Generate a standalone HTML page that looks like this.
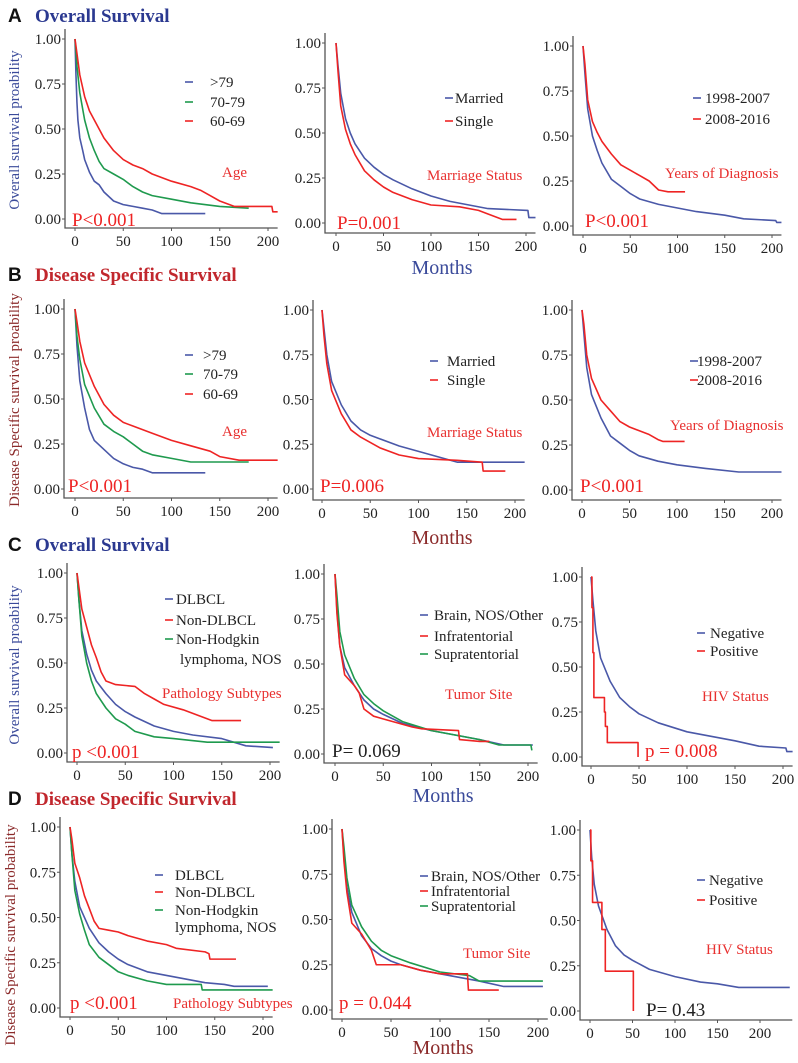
<!DOCTYPE html>
<html><head><meta charset="utf-8"><style>
html,body{margin:0;padding:0;background:#fff;}
svg{display:block;font-family:"Liberation Serif",serif;}
svg text{font-family:"Liberation Serif",serif;}
.tk{font-size:15px;fill:#222;}
.lg{font-size:15px;fill:#222;}
.an{font-size:15px;fill:#e8302f;}
.pv{font-size:19px;}
</style></head><body>
<svg id="fig" width="798" height="1063" viewBox="0 0 798 1063">
<g>
<text x="8" y="22" style="font-family:'Liberation Sans',sans-serif" font-weight="bold" font-size="19" fill="#111">A</text>
<text x="35" y="22" font-weight="bold" font-size="19" fill="#2b3990">Overall Survival</text>
<text x="8" y="281" style="font-family:'Liberation Sans',sans-serif" font-weight="bold" font-size="19" fill="#111">B</text>
<text x="35" y="281" font-weight="bold" font-size="19" fill="#c1272d">Disease Specific Survival</text>
<text x="8" y="551" style="font-family:'Liberation Sans',sans-serif" font-weight="bold" font-size="19" fill="#111">C</text>
<text x="35" y="551" font-weight="bold" font-size="19" fill="#2b3990">Overall Survival</text>
<text x="8" y="805" style="font-family:'Liberation Sans',sans-serif" font-weight="bold" font-size="19" fill="#111">D</text>
<text x="35" y="805" font-weight="bold" font-size="19" fill="#c1272d">Disease Specific Survival</text>
</g>
<g>
<text transform="translate(19,130) rotate(-90)" text-anchor="middle" font-size="15" fill="#3a4a9a">Overall survival proability</text>
<text transform="translate(19,400) rotate(-90)" text-anchor="middle" font-size="15" fill="#8b2a2a">Disease Specific survival proability</text>
<text transform="translate(19,665) rotate(-90)" text-anchor="middle" font-size="15" fill="#3a4a9a">Overall survival proability</text>
<text transform="translate(15,935) rotate(-90)" text-anchor="middle" font-size="15" fill="#8b2a2a">Disease Specific survival probability</text>
<text x="442" y="274" text-anchor="middle" font-size="20" fill="#3a4a9a">Months</text>
<text x="442" y="544" text-anchor="middle" font-size="20" fill="#8b2a2a">Months</text>
<text x="443" y="802" text-anchor="middle" font-size="20" fill="#3a4a9a">Months</text>
<text x="443" y="1054" text-anchor="middle" font-size="20" fill="#8b2a2a">Months</text>
</g>
</svg>
<script>
const xTicks = [0, 50, 100, 150, 200];
const yTicks = [0, 0.25, 0.5, 0.75, 1];
const yTickLabels = ["0.00", "0.25", "0.50", "0.75", "1.00"];

// A1 Age OS
const a1_old_t = [0,1,2,3,5,8,10,15,20,25,30,40,50,60,70,80,90,135];
const a1_old_s = [1,.8,.65,.55,.45,.38,.33,.26,.21,.19,.15,.1,.08,.07,.06,.05,.03,.03];
const a1_mid_t = [0,2,5,10,15,20,25,30,40,50,60,70,80,100,120,150,180];
const a1_mid_s = [1,.85,.7,.55,.45,.38,.32,.28,.25,.22,.18,.15,.13,.11,.09,.07,.06];
const a1_yng_t = [0,2,5,10,15,20,30,40,50,60,70,80,100,120,130,140,150,165,204,205,210];
const a1_yng_s = [1,.92,.8,.68,.6,.55,.45,.38,.33,.3,.28,.25,.21,.18,.16,.13,.1,.07,.07,.04,.04];
// A2 Marriage OS
const a2_mar_t = [0,2,5,10,15,20,30,40,50,60,80,100,120,140,160,202,203,210];
const a2_mar_s = [1,.88,.72,.58,.5,.44,.36,.31,.27,.24,.19,.15,.12,.1,.08,.07,.03,.03];
const a2_sgl_t = [0,2,5,10,15,20,30,40,50,60,80,100,130,150,160,175,190];
const a2_sgl_s = [1,.85,.65,.52,.44,.38,.29,.24,.2,.17,.13,.1,.09,.07,.05,.02,.02];
// A3 Year OS
const a3_old_t = [0,2,5,10,15,20,30,40,50,60,80,100,120,150,170,204,205,210];
const a3_old_s = [1,.85,.65,.5,.42,.35,.26,.22,.18,.15,.12,.1,.08,.06,.04,.03,.02,.02];
const a3_new_t = [0,2,5,10,15,20,30,40,50,60,70,80,90,108];
const a3_new_s = [1,.9,.7,.58,.52,.47,.4,.34,.31,.28,.25,.2,.19,.19];
// B1 Age DSS
const b1_old_t = [0,2,5,10,15,20,30,40,50,60,70,80,135];
const b1_old_s = [1,.8,.6,.45,.33,.27,.22,.17,.14,.12,.11,.09,.09];
const b1_mid_t = [0,2,5,10,20,30,40,50,60,70,80,100,120,180];
const b1_mid_s = [1,.85,.72,.58,.45,.36,.32,.29,.25,.21,.19,.17,.15,.15];
const b1_yng_t = [0,2,5,10,20,30,40,50,60,80,100,120,140,150,170,210];
const b1_yng_s = [1,.93,.82,.7,.57,.47,.41,.37,.35,.31,.27,.24,.21,.18,.16,.16];
// B2 Marriage DSS
const b2_mar_t = [0,2,5,10,20,30,40,50,60,80,100,120,140,210];
const b2_mar_s = [1,.9,.75,.6,.47,.38,.33,.3,.28,.24,.21,.18,.15,.15];
const b2_sgl_t = [0,2,5,10,20,30,40,50,60,80,100,140,166,167,190];
const b2_sgl_s = [1,.86,.7,.55,.42,.33,.29,.26,.23,.19,.17,.16,.15,.1,.1];
// B3 Year DSS
const b3_old_t = [0,2,5,10,20,30,40,50,60,80,100,130,165,210];
const b3_old_s = [1,.87,.68,.53,.4,.3,.26,.22,.19,.16,.14,.12,.1,.1];
const b3_new_t = [0,2,5,10,20,30,40,50,60,70,80,85,108];
const b3_new_s = [1,.92,.75,.62,.5,.44,.38,.35,.33,.31,.28,.27,.27];
// C1 Pathology OS
const c1_dl_t = [0,2,5,10,15,20,30,40,50,60,80,100,120,150,175,203];
const c1_dl_s = [1,.85,.68,.55,.46,.4,.33,.27,.23,.2,.15,.12,.1,.08,.04,.03];
const c1_nd_t = [0,2,5,10,15,20,25,30,40,60,70,80,90,110,130,140,170];
const c1_nd_s = [1,.92,.8,.7,.6,.53,.45,.4,.38,.37,.33,.3,.27,.24,.2,.18,.18];
const c1_nh_t = [0,2,5,10,15,20,30,40,50,60,80,100,135,210];
const c1_nh_s = [1,.85,.65,.5,.4,.33,.25,.19,.16,.12,.09,.08,.06,.06];
// C2 Tumor site OS
const c2_br_t = [0,2,5,10,20,30,40,50,70,100,130,150,175,205];
const c2_br_s = [1,.8,.6,.48,.38,.3,.25,.22,.17,.13,.1,.08,.05,.05];
const c2_in_t = [0,2,5,10,20,25,30,40,60,80,90,128,129,150,160];
const c2_in_s = [1,.78,.6,.44,.38,.34,.25,.21,.18,.15,.14,.13,.08,.07,.07];
const c2_su_t = [0,2,5,10,20,30,40,50,70,100,130,150,170,203,204];
const c2_su_s = [1,.88,.68,.55,.42,.33,.28,.24,.18,.13,.1,.08,.05,.05,.02];
// C3 HIV OS
const c3_neg_t = [0,2,5,10,20,30,40,50,70,100,150,175,203,204,210];
const c3_neg_s = [1,.87,.7,.55,.42,.33,.28,.24,.19,.14,.09,.06,.05,.03,.03];
const c3_pos_t = [0,1,2,3,14,15,17,49];
const c3_pos_s = [1,.83,.58,.33,.25,.17,.08,0];
// D1 Pathology DSS
const d1_dl_t = [0,2,5,10,20,30,40,50,60,80,100,120,140,160,170,205];
const d1_dl_s = [1,.85,.7,.56,.44,.36,.31,.27,.24,.2,.18,.16,.14,.13,.12,.12];
const d1_nd_t = [0,2,5,10,15,20,25,30,40,50,60,80,100,110,140,144,145,172];
const d1_nd_s = [1,.93,.8,.72,.62,.55,.48,.44,.43,.42,.4,.37,.35,.33,.31,.3,.27,.27];
const d1_nh_t = [0,2,5,10,15,20,30,40,50,60,80,100,136,137,210];
const d1_nh_s = [1,.85,.65,.52,.43,.35,.28,.24,.2,.18,.15,.13,.13,.1,.1];
// D2 Tumor site DSS
const d2_br_t = [0,2,5,10,20,30,40,50,60,80,100,120,140,165,205];
const d2_br_s = [1,.85,.68,.54,.41,.34,.3,.27,.25,.22,.2,.18,.16,.13,.13];
const d2_in_t = [0,2,5,10,20,30,35,60,80,100,128,129,160];
const d2_in_s = [1,.82,.65,.48,.42,.33,.25,.25,.22,.2,.2,.11,.11];
const d2_su_t = [0,2,5,10,20,30,40,50,70,100,130,140,205];
const d2_su_s = [1,.9,.73,.58,.46,.38,.33,.3,.26,.21,.19,.16,.16];
// D3 HIV DSS
const d3_neg_t = [0,2,5,10,20,30,40,50,70,100,130,150,175,235];
const d3_neg_s = [1,.85,.7,.58,.45,.36,.31,.28,.23,.19,.16,.15,.13,.13];
const d3_pos_t = [0,1,3,14,18,51];
const d3_pos_s = [1,.83,.6,.45,.22,0];

const BLUE = "#4a58a8", GREEN = "#1f9a4e", RED = "#ee2424";
const NS = "http://www.w3.org/2000/svg";
const svg = document.getElementById("fig");

function mk(tag, attrs, parent) {
  const e = document.createElementNS(NS, tag);
  for (const k in attrs) e.setAttribute(k, attrs[k]);
  parent.appendChild(e);
  return e;
}

const panels = [
 {id:"a1", ax:65, x0:75, x200:268, y1:39, y0:219, bot:228, xmax:210,
  series:[[a1_old_t,a1_old_s,BLUE],[a1_mid_t,a1_mid_s,GREEN],[a1_yng_t,a1_yng_s,RED]],
  legend:{dx:185, tx:210, ys:[86,106,125], labels:[">79","70-79","60-69"], cols:[BLUE,GREEN,RED]},
  ann:[[222,177,"Age"]], pv:[72,226,"P<0.001",RED]},
 {id:"a2", ax:325, x0:336, x200:526, y1:43, y0:223, bot:233, xmax:210,
  series:[[a2_mar_t,a2_mar_s,BLUE],[a2_sgl_t,a2_sgl_s,RED]],
  legend:{dx:445, tx:455, ys:[102,125], labels:["Married"," Single"], cols:[BLUE,RED]},
  ann:[[427,180,"Marriage Status"]], pv:[337,229,"P=0.001",RED]},
 {id:"a3", ax:573, x0:583, x200:772, y1:46, y0:226, bot:235, xmax:210,
  series:[[a3_old_t,a3_old_s,BLUE],[a3_new_t,a3_new_s,RED]],
  legend:{dx:693, tx:705, ys:[102,123], labels:["1998-2007","2008-2016"], cols:[BLUE,RED]},
  ann:[[665,178,"Years of Diagnosis"]], pv:[585,227,"P<0.001",RED]},
 {id:"b1", ax:64, x0:75, x200:268, y1:309, y0:489, bot:498, xmax:210,
  series:[[b1_old_t,b1_old_s,BLUE],[b1_mid_t,b1_mid_s,GREEN],[b1_yng_t,b1_yng_s,RED]],
  legend:{dx:185, tx:203, ys:[359,378,398], labels:[">79","70-79","60-69"], cols:[BLUE,GREEN,RED]},
  ann:[[222,436,"Age"]], pv:[68,492,"P<0.001",RED]},
 {id:"b2", ax:313, x0:322, x200:515, y1:310, y0:489, bot:500, xmax:210,
  series:[[b2_mar_t,b2_mar_s,BLUE],[b2_sgl_t,b2_sgl_s,RED]],
  legend:{dx:430, tx:447, ys:[365,384], labels:["Married"," Single"], cols:[BLUE,RED]},
  ann:[[427,437,"Marriage Status"]], pv:[320,492,"P=0.006",RED]},
 {id:"b3", ax:572, x0:582, x200:772, y1:310, y0:490, bot:500, xmax:210,
  series:[[b3_old_t,b3_old_s,BLUE],[b3_new_t,b3_new_s,RED]],
  legend:{dx:690, tx:697, ys:[365,384], labels:["1998-2007","2008-2016"], cols:[BLUE,RED]},
  ann:[[670,430,"Years of Diagnosis"]], pv:[580,492,"P<0.001",RED]},
 {id:"c1", ax:67, x0:77, x200:270, y1:573, y0:753, bot:762, xmax:210,
  series:[[c1_dl_t,c1_dl_s,BLUE],[c1_nh_t,c1_nh_s,GREEN],[c1_nd_t,c1_nd_s,RED]],
  legend:{dx:165, tx:176, ys:[603,624,643], labels:["DLBCL","Non-DLBCL","Non-Hodgkin"], cols:[BLUE,RED,GREEN], extra:[180,663,"lymphoma, NOS"]},
  ann:[[162,698,"Pathology Subtypes"]], pv:[72,758,"p <0.001",RED]},
 {id:"c2", ax:324, x0:335, x200:528, y1:574, y0:754, bot:763, xmax:210,
  series:[[c2_br_t,c2_br_s,BLUE],[c2_su_t,c2_su_s,GREEN],[c2_in_t,c2_in_s,RED]],
  legend:{dx:420, tx:434, ys:[619,640,658], labels:["Brain, NOS/Other","Infratentorial","Supratentorial"], cols:[BLUE,RED,GREEN]},
  ann:[[445,699,"Tumor Site"]], pv:[332,757,"P= 0.069","#222"]},
 {id:"c3", ax:582, x0:591, x200:783, y1:577, y0:757, bot:766, xmax:210,
  series:[[c3_neg_t,c3_neg_s,BLUE],[c3_pos_t,c3_pos_s,RED,true]],
  legend:{dx:697, tx:710, ys:[637,655], labels:["Negative","Positive"], cols:[BLUE,RED]},
  ann:[[702,701,"HIV Status"]], pv:[645,757,"p = 0.008",RED]},
 {id:"d1", ax:60, x0:70, x200:263, y1:827, y0:1008, bot:1017, xmax:210,
  series:[[d1_dl_t,d1_dl_s,BLUE],[d1_nh_t,d1_nh_s,GREEN],[d1_nd_t,d1_nd_s,RED]],
  legend:{dx:155, tx:175, ys:[879,896,914], labels:["DLBCL","Non-DLBCL","Non-Hodgkin"], cols:[BLUE,RED,GREEN], extra:[175,931," lymphoma, NOS"]},
  ann:[[173,1008,"Pathology Subtypes"]], pv:[70,1009,"p <0.001",RED]},
 {id:"d2", ax:332, x0:342, x200:538, y1:829, y0:1010, bot:1019, xmax:210,
  series:[[d2_br_t,d2_br_s,BLUE],[d2_su_t,d2_su_s,GREEN],[d2_in_t,d2_in_s,RED]],
  legend:{dx:420, tx:431, ys:[880,895,910], labels:["Brain, NOS/Other"," Infratentorial"," Supratentorial"], cols:[BLUE,RED,GREEN]},
  ann:[[463,958,"Tumor Site"]], pv:[339,1009,"p = 0.044",RED]},
 {id:"d3", ax:580, x0:590, x200:760, y1:830, y0:1011, bot:1020, xmax:238,
  series:[[d3_neg_t,d3_neg_s,BLUE],[d3_pos_t,d3_pos_s,RED,true]],
  legend:{dx:697, tx:709, ys:[884,904], labels:["Negative","Positive"], cols:[BLUE,RED]},
  ann:[[706,954,"HIV Status"]], pv:[646,1016,"P= 0.43","#222"]}
];

panels.forEach(p => {
  const X = t => p.x0 + (p.x200 - p.x0) * t / 200;
  const Y = s => p.y0 - (p.y0 - p.y1) * s;
  const g = mk("g", {}, svg);
  
  
  const axes = mk("path", {d:`M${p.ax},${p.y1-10}V${p.bot}H${X(p.xmax)}`, fill:"none", stroke:"#555", "stroke-width":1.3}, g);
  
  
  yTicks.forEach((v, i) => {
    mk("line", {x1:p.ax-3, x2:p.ax, y1:Y(v), y2:Y(v), stroke:"#555"}, g);
    const t = mk("text", {x:p.ax-4, y:Y(v)+5, "text-anchor":"end", class:"tk"}, g);
    t.textContent = yTickLabels[i];
    
    
  });
  xTicks.forEach(v => {
    mk("line", {x1:X(v), x2:X(v), y1:p.bot, y2:p.bot+3, stroke:"#555"}, g);
    const t = mk("text", {x:X(v), y:p.bot+18, "text-anchor":"middle", class:"tk"}, g);
    t.textContent = v;
    
    
  });
  p.series.forEach(([ts, ss, col, step], k) => {
    let d = `M${X(ts[0])},${Y(ss[0])}`;
    for (let i = 1; i < ts.length; i++) {
      if (step) d += `H${X(ts[i])}V${Y(ss[i])}`;
      else d += `L${X(ts[i])},${Y(ss[i])}`;
    }
    const path = mk("path", {d:d, fill:"none", stroke:col, "stroke-width":1.6, "stroke-linejoin":"round"}, g);
    
    
  });
  const L = p.legend;
  L.labels.forEach((lab, i) => {
    const y = L.ys[i];
    mk("line", {x1:L.dx, x2:L.dx+8, y1:y-4, y2:y-4, stroke:L.cols[i], "stroke-width":1.6}, g);
    const t = mk("text", {x:L.tx, y:y+1, class:"lg"}, g);
    t.textContent = lab;
    
    
  });
  if (L.extra) {
    const t = mk("text", {x:L.extra[0], y:L.extra[1]+1, class:"lg"}, g);
    t.textContent = L.extra[2];
    
    
  }
  p.ann.forEach(a => {
    const t = mk("text", {x:a[0], y:a[1], class:"an"}, g);
    t.textContent = a[2];
    
    
  });
  const pv = mk("text", {x:p.pv[0], y:p.pv[1], class:"pv", fill:p.pv[3]}, g);
  pv.textContent = p.pv[2];
  
  
});
</script>
</body></html>
